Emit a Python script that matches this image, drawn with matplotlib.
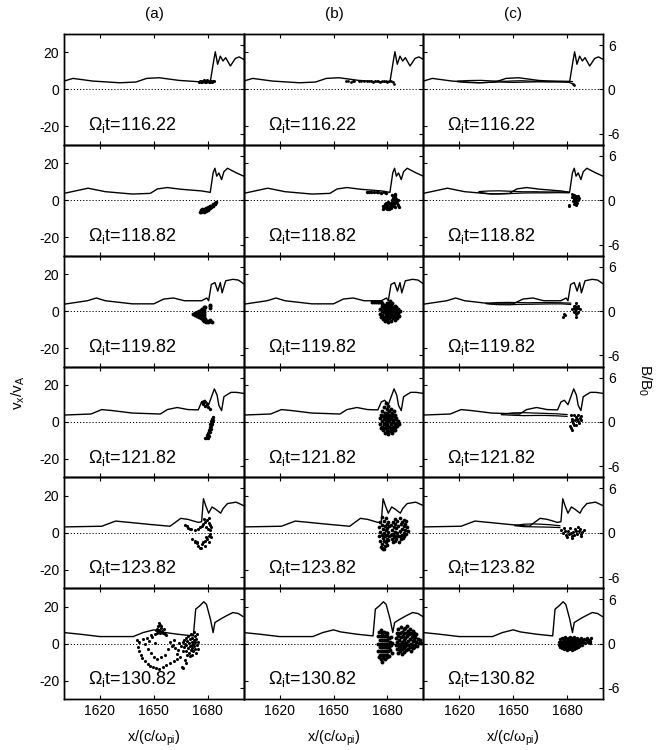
import numpy as np
import matplotlib
matplotlib.use('Agg')
import matplotlib.pyplot as plt

plt.rcParams['font.family'] = ['Liberation Sans', 'DejaVu Sans']
plt.rcParams['mathtext.fontset'] = 'custom'
plt.rcParams['mathtext.rm'] = 'Liberation Sans'
plt.rcParams['mathtext.it'] = 'Liberation Sans:italic'
plt.rcParams['axes.unicode_minus'] = False

times = ['116.22', '118.82', '119.82', '121.82', '123.82', '130.82']
col_titles = ['(a)', '(b)', '(c)']
x_ticks = [1620, 1650, 1680]
v_ticks = [-20, 0, 20]
b_ticks = [-6, 0, 6]

# ---------- B/B0 profiles (same for the three columns of a row) ----------
bx_1 = [1600, 1605, 1616, 1631, 1640, 1646, 1653, 1664, 1675, 1681.4, 1683.3, 1684.2,
        1685.5, 1687, 1688.5, 1690, 1692.6, 1695.4, 1697.5, 1700]
bb_1 = [1.13, 1.49, 1.13, 0.9, 1.0, 1.49, 1.58, 1.22, 1.04, 1.0, 3.85, 5.1,
        3.4, 4.5, 3.85, 4.3, 3.17, 4.2, 4.4, 4.07]
bx_2 = [1600, 1613.4, 1623, 1638, 1648, 1652, 1657.5, 1665, 1676.6, 1681.4, 1683, 1684,
        1685, 1686.2, 1687.7, 1689, 1691, 1694, 1696, 1700]
bb_2 = [0.93, 1.63, 1.16, 0.84, 0.93, 1.53, 1.72, 1.49, 1.26, 1.07, 3.72, 4.33,
        3.26, 3.7, 2.8, 3.86, 4.33, 3.95, 3.7, 3.26]
bx_3 = [1600, 1613, 1618, 1623, 1638, 1650, 1655.5, 1661, 1667, 1676.6, 1679.5, 1680.5,
        1682, 1684, 1685.6, 1687, 1688, 1690, 1694, 1697, 1700]
bb_3 = [0.93, 1.4, 1.77, 1.4, 0.98, 0.98, 1.63, 1.77, 1.4, 1.4, 1.77, 1.4,
        3.6, 3.86, 2.7, 3.86, 2.47, 4.1, 4.3, 4.2, 3.7]
bx_4 = [1600, 1615, 1621, 1627, 1638, 1653.6, 1657.5, 1663, 1669, 1674.7, 1676.6, 1678.5,
        1680.5, 1683.7, 1685.2, 1686.2, 1687.7, 1689, 1691, 1693, 1696, 1700]
bb_4 = [0.93, 1.07, 1.67, 1.53, 1.2, 1.07, 1.67, 1.95, 1.67, 1.63, 2.7, 2.93,
        2.33, 4.47, 3.63, 2.23, 1.53, 3.4, 3.72, 4.0, 4.0, 3.86]
bx_5 = [1600, 1621, 1628.7, 1636.4, 1648, 1659, 1665, 1669, 1674.7, 1676.6, 1677.6, 1679,
        1680.5, 1682.4, 1684.3, 1687.2, 1688.5, 1691, 1695.8, 1700]
bb_5 = [0.79, 0.88, 1.58, 1.4, 1.12, 0.88, 1.95, 1.81, 1.4, 1.49, 4.6, 3.58,
        2.65, 3.49, 3.2, 2.65, 3.26, 3.95, 4.14, 3.67]
bx_6 = [1600, 1608.9, 1620, 1638.5, 1644, 1650, 1654, 1663, 1672, 1673.3, 1675.5, 1677.8,
        1679.3, 1681.5, 1683, 1684, 1687, 1690.4, 1694, 1697, 1699.6]
bb_6 = [1.49, 1.27, 0.95, 0.95, 1.49, 1.86, 1.58, 1.27, 1.04, 4.66, 5.1, 5.66,
        5.3, 3.3, 1.49, 2.85, 3.3, 3.76, 4.2, 4.07, 3.67]

# ---------- particles (x, vx/vA) ----------
pts_a1 = [(1675, 3.8), (1676, 4.6), (1677, 4.0), (1678, 4.9), (1679, 3.9), (1680, 4.5),
          (1681, 4.2), (1682, 4.8), (1683, 4.4), (1675.5, 4.4), (1676.5, 3.9), (1677.5, 4.7),
          (1678.5, 4.1), (1679.5, 4.9), (1680.5, 3.8), (1681.5, 4.6), (1682.5, 4.0), (1683.5, 4.4)]
pts_b1 = [(1657, 4.6), (1658, 4.5), (1660, 4.2), (1661, 4.8), (1661.5, 4.4), (1664, 4.5),
          (1665.5, 4.4), (1667, 4.5), (1668.5, 4.4), (1670, 4.3), (1671, 4.6), (1672, 4.2),
          (1673, 4.5), (1674, 4.3), (1675, 4.6), (1676, 4.2), (1677, 4.5), (1678, 4.3),
          (1679, 4.6), (1680, 4.2), (1681, 4.4), (1682, 4.5), (1683, 4.0), (1683.5, 2.8)]
pts_c1 = [(1683.4, 3.2), (1683.6, 2.6)]

pts_a2 = [(1675.5, -6.2), (1676, -5.5), (1676.5, -6.4), (1677, -4.8), (1677, -5.8), (1678, -4.5),
          (1678, -5.5), (1678, -6.2), (1679, -4), (1679, -5), (1679, -5.9), (1680, -3.5),
          (1680, -4.5), (1680, -5.4), (1681, -3.2), (1681, -4.2), (1682, -3), (1682, -3.8),
          (1683, -2.3), (1683, -3.1), (1684, -1.5), (1684, -2.3), (1684.5, -1.2), (1677.5, -5.2),
          (1680.5, -4)]
pts_b2 = [(1668.6, 4.4), (1669.5, 4.6), (1671, 4.3), (1672.5, 4.5), (1674, 4.2), (1675, 4.6),
          (1676.5, 4.1), (1678, 4.3), (1679, 3.8),
          (1677.5, -3), (1678, -4.2), (1678.5, -2), (1679, -3.5), (1679.5, -4.6), (1680, -2.5),
          (1680.5, -3.8), (1681, -1.5), (1681, -4.5), (1681.5, -3), (1682, -2), (1682, -4),
          (1682.5, -1), (1683, -3), (1683.5, -2), (1684, -1), (1684.5, -3.5), (1677.8, -4.8),
          (1679.2, -1.6), (1680.3, -1.2),
          (1682.5, 0), (1683, 1), (1683.5, 2), (1684, 3), (1684.5, 3.6), (1683.8, 0.5),
          (1684.3, 1.8), (1682.8, 2.6), (1685, 0.8), (1685, -0.6),
          (1685.5, -1.5), (1686, -2.6), (1686.5, -3.5), (1685.8, 0.2)]
pts_c2 = [(1683, 3.5), (1683.5, 2), (1684, 0.5), (1684.5, -1), (1685, -2.5), (1685.5, 1.5),
          (1686, 0), (1684, 3), (1685, 2.5), (1683.5, -0.5), (1684.5, 1), (1685.5, -1.5),
          (1686.5, 1), (1683, 1.5), (1685, 0.2), (1684, -2), (1686, 2.5), (1680.8, -3.2),
          (1681, -2.6)]

pts_a3 = [(1672, -1.7), (1673, -1.2), (1673, -2.3), (1674, -0.6), (1674, -1.6), (1674, -2.8),
          (1675, 0), (1675, -1), (1675, -2), (1675, -3.2), (1676, 0.6), (1676, -0.5),
          (1676, -1.6), (1676, -2.7), (1676, -3.6), (1677, 1.2), (1677, 0), (1677, -1.2),
          (1677, -2.4), (1677, -3.8), (1678, 2), (1678, 0.8), (1678, -0.4), (1678, -1.6),
          (1678, -2.8), (1678, -4), (1678.5, 2.4), (1678.5, -4.1),
          (1677.5, -4.8), (1678.5, -5), (1679.5, -5.2), (1680.5, -5.4), (1681.5, -5.6),
          (1682.3, -5.8), (1679, -5.8), (1680, -6), (1681, -5), (1678, -5.5),
          (1681.3, 3.2), (1681.4, 1.8), (1681, 2.5)]
pts_b3 = [(1676, 1), (1676, -1.5), (1676.5, -3), (1677, 2.5), (1677, 0), (1677, -2), (1677.5, -4.5),
          (1678, 3.5), (1678, 1.5), (1678, -0.5), (1678, -3), (1678.5, -5.5), (1679, 2.5),
          (1679, 0.5), (1679, -1.5), (1679, -4), (1679.5, 4.5), (1680, 3), (1680, 1), (1680, -1),
          (1680, -3), (1680, -5), (1680.5, -6), (1681, 4), (1681, 2), (1681, 0), (1681, -2),
          (1681, -4), (1681.5, 5.2), (1682, 3), (1682, 1), (1682, -1), (1682, -3), (1682, -5.5),
          (1682.5, 4.2), (1683, 2), (1683, 0), (1683, -2), (1683, -4), (1684, 3), (1684, 1),
          (1684, -1), (1684, -3), (1684.5, -5), (1685, 2), (1685, 0), (1685, -2), (1685.5, -3.5),
          (1686, 1), (1686, -1), (1686.5, -2.5), (1686.8, 0.2), (1679.5, -2.5), (1680.5, 0),
          (1681.5, -1), (1682.5, -2), (1683.5, 1), (1683.5, -3), (1678.5, 2), (1677.5, 1),
          (1671.5, 4.9), (1672.5, 5.1), (1673.5, 4.8), (1674.5, 5.0), (1675.5, 4.7), (1676.5, 4.9),
          (1677, 4.6)]
pts_c3 = [(1685, 4.3), (1684, 2.5), (1686, 2.5), (1683, 1), (1687, 1), (1684, -0.5), (1686, -0.5),
          (1685, -3), (1685, 1), (1684.5, 0), (1685.5, 2), (1685, -1.5), (1684, 1.5), (1686, 1.5),
          (1685.5, -0.8), (1684.5, 3), (1678.5, -1.5), (1678, -3), (1679, -2.2)]

pts_a4 = [(1682.8, 2.4), (1682.5, 1.5), (1682, 0.5), (1682.3, -0.3), (1681.5, -1), (1681.8, -2),
          (1681, -2.8), (1681.3, -3.5), (1680.5, -4.2), (1680.8, -5), (1680, -5.8), (1680.3, -6.5),
          (1679.5, -7.2), (1679.8, -8), (1679, -8.6), (1678.6, -8.9), (1683, 1), (1682.6, -1.2),
          (1681.9, -3.8), (1681.2, -5.6), (1680.6, -7.4), (1680.2, -8.5),
          (1681.4, 7), (1676.7, 10.6), (1677.5, 9.5), (1678.5, 8.5), (1679.5, 9.8), (1678, 11),
          (1680, 8)]
pts_b4 = [(1676, 2), (1676, -1), (1676.5, 4), (1677, 0.5), (1677, -2.5), (1677, 6), (1677.5, 3),
          (1677.5, -4.5), (1678, 8), (1678, 1.5), (1678, -1), (1678, -3.5), (1678.5, 5),
          (1678.5, -6), (1679, 10), (1679, 3), (1679, 0), (1679, -2.5), (1679.5, 7), (1679.5, -5),
          (1680, 5), (1680, 1.5), (1680, -1.5), (1680, -4), (1680.5, 8.5), (1680.5, 3),
          (1680.5, -6.5), (1681, 6), (1681, 0.5), (1681, -2.5), (1681.5, 4), (1681.5, -5),
          (1682, 7), (1682, 2), (1682, -1), (1682, -3.5), (1682.5, 5), (1682.5, -6), (1683, 3),
          (1683, 0), (1683, -2.5), (1683.5, 6), (1683.5, -4.5), (1684, 1.5), (1684, -1.5),
          (1684.5, 4), (1684.5, -3), (1685, 2), (1685, -0.5), (1685.5, -2), (1686, 0.5),
          (1686.5, -1), (1676.5, -3.5), (1679.5, -0.8), (1681.3, 1.8), (1683.2, 1.2),
          (1678.8, 4.2), (1680.2, -2.8), (1682.2, -4.6), (1684.2, -4.2)]
pts_c4 = [(1682, 3.5), (1683, 1.5), (1684, 3.8), (1685, 2.5), (1686, 0.5), (1687, 2), (1688, 1),
          (1683.5, -0.5), (1685, -1.5), (1686.5, -0.8), (1684.5, 0.8), (1687.5, 3), (1682.5, 0.5),
          (1685.5, 1.5), (1684, -1.8), (1681.5, -2), (1682, -3.5), (1683, -4.2), (1686, 3.5)]

pts_a5 = [(1667.4, 4.1), (1669, 2.8), (1670.9, 1.9), (1672.8, 1.7), (1674.7, 2.2), (1676.6, 3.5),
          (1677.6, 5.0), (1678.5, 6.0), (1679.5, 6.9), (1680.5, 5.4), (1678.9, 3.2), (1681.4, 4.1),
          (1680.1, 2.2), (1668.2, 3.5), (1669.9, 2.2), (1675.7, 3.2), (1678.2, 7.3), (1680.5, 7.8),
          (1682, 3.2),
          (1671.3, -3.4), (1672.8, -4.3), (1673.8, -5.2), (1674.7, -7.1), (1675.7, -8),
          (1676.6, -6.1), (1677.6, -5.2), (1678.5, -4.3), (1679.5, -3.4), (1680.5, -1.5),
          (1681.4, -0.6), (1682, -2.4), (1680.8, -5.2), (1678.5, -7.1), (1676.2, -8.4),
          (1672.8, -5.2), (1674.3, -5.8), (1678.9, -2.4), (1681.4, 1.3)]
pts_b5 = [(1675.5, 3), (1675.5, -2), (1676, 6), (1676, 0.5), (1676, -4.5), (1676.5, -7.5),
          (1677, 8.5), (1677, 4), (1677, -1), (1677, -6), (1677.5, 2), (1677.5, -3),
          (1677.5, -8.8), (1678, 6.5), (1678, 0), (1678, -4.5), (1678.5, 3.5), (1678.5, -2),
          (1678.5, -7), (1679, 7.8), (1679, 1.5), (1679, -5), (1679.5, 5), (1679.5, -1),
          (1679.5, -3.5), (1680, 2.5), (1680, -6.5), (1680.5, 0.5), (1680.5, -4), (1681, 3.5),
          (1681, -2), (1676.8, -8.5), (1678.2, -9), (1680.2, 6),
          (1682, 4), (1682, -1), (1682.5, 1.5), (1682.5, -3.5), (1683, 6), (1683, -0.5),
          (1683, -5), (1683.5, 3), (1683.5, -2.5), (1684, 7.5), (1684, 0.5), (1684, -4.5),
          (1684.5, 5), (1684.5, -1.5), (1685, 2.5), (1685, -3.5), (1685.5, 6.5), (1685.5, 0),
          (1686, -2), (1686, 3.5), (1686.5, -5), (1687, 7.8), (1687, 1), (1687, -1.5),
          (1687.5, 4.5), (1687.5, -3.5), (1688, 6), (1688, 2), (1688, -1), (1688.5, -3),
          (1689, 7), (1689, 3.5), (1689, 0), (1689.5, -2), (1690, 5), (1690, 1.5),
          (1690.5, -0.5), (1690.5, 6.5), (1691, 3), (1691.5, 1)]
pts_c5 = [(1676.5, 1.5), (1677.5, 0), (1678.5, 2.5), (1679.5, -1), (1680.5, 1), (1681.5, 2.8),
          (1682.5, -1.8), (1683.5, 0.5), (1684.5, 2), (1685.5, -0.5), (1686.5, 1.2),
          (1687.5, -1.5), (1688.5, 0.3), (1689.3, 1.5), (1680, -2.5), (1683, -2.8), (1686, 3),
          (1682, 0), (1684, -1), (1685, 1), (1687, 2), (1679, 0.8), (1681, -0.5), (1688, -0.5)]

pts_a6 = [(1652.5, 9.5), (1653, 11), (1653.5, 10), (1654, 8.5), (1652, 8), (1653, 7.5),
          (1654.5, 7), (1655, 6), (1652.5, 6.5), (1651.5, 6), (1653.5, 5.5), (1655.5, 8),
          (1656, 5), (1651, 7.2), (1654, 9.5), (1650.5, 5), (1656.5, 4.5),
          (1640.5, 2), (1642, 1), (1644, 2.5), (1646, 3), (1647.5, 1.5), (1649, 3.5),
          (1650.5, 0.5), (1645, 0), (1648.5, 4.5),
          (1641, -2), (1642, -4), (1643, -6), (1643.5, -7.8), (1645, -9.5), (1646.5, -11),
          (1648, -12), (1649.5, -12.5), (1651, -13), (1653, -13.5), (1655, -12.5),
          (1657, -11.5), (1659, -10.5), (1661, -9.5), (1663, -8.2), (1664.5, -7),
          (1647, -3), (1648.5, -5), (1650, -7), (1652, -8.5), (1654, -7.5), (1656, -6),
          (1658, -3), (1660, -1.5),
          (1665.5, -12.5), (1666.5, -13), (1668, -10.5), (1667.5, -9),
          (1659, 1), (1660.5, -0.5), (1662, -2.5), (1663.5, -3.5), (1664, 0.5), (1665, -1.5),
          (1666, -4), (1663, -5.5), (1661.5, 1.8), (1666.5, 1),
          (1667, 2), (1667, -2), (1667.5, 0), (1668, 3), (1668, -1), (1668, -4), (1668.5, 1.5),
          (1669, -2.5), (1669, 4), (1669.5, 0.5), (1669.5, -5), (1670, 2.5), (1670, -1.5),
          (1670.5, -3.5), (1670.5, 5), (1671, 1), (1671, -0.5), (1671.5, 3), (1671.5, -2.5),
          (1671.5, -6), (1672, 0), (1672, -4), (1672.5, 2), (1672.5, 6.5), (1672.5, -1.5),
          (1673, 4), (1673, -3), (1673, 0.8), (1673.5, -5), (1673.5, 2.5), (1674, -1),
          (1674, 5), (1674.5, 1), (1674.5, -3), (1670, -6.5), (1668.5, -6)]
pts_b6 = [(1675, 4), (1675, 0), (1675, -4), (1675.5, -7), (1675.5, 6.5), (1676, 2), (1676, -2),
          (1676, -6), (1676.5, 7.5), (1676.5, 4), (1676.5, 0), (1676.5, -4), (1676.5, -8.5),
          (1677, -9.8), (1677, 6), (1677, 2), (1677, -2), (1677, -6), (1677.5, 4), (1677.5, 0),
          (1677.5, -4), (1677.5, -8), (1678, 6.5), (1678, 2), (1678, -2), (1678, -6),
          (1678.5, 4), (1678.5, 0), (1678.5, -4), (1678.5, -8.5), (1679, 6), (1679, 2),
          (1679, -2), (1679, -6), (1679.5, 4), (1679.5, 0), (1679.5, -4), (1679.5, -7.5),
          (1680, 2), (1680, -2), (1680, -6), (1680, 5.5), (1680.5, 0), (1680.5, -4), (1681, 3),
          (1681, -2), (1681, -6.5), (1681.5, 1), (1681.5, -3.5), (1682, -1), (1682, 3.5),
          (1682.5, -5), (1682.8, 0.5),
          (1685, 3), (1685, -1), (1685.5, 6), (1685.5, 1), (1685.5, -3), (1686, 8), (1686, 4),
          (1686, -1), (1686, -5), (1686.5, 2), (1686.5, -2.5), (1687, 6), (1687, 0), (1687, -4),
          (1687.5, 9), (1687.5, 3.5), (1687.5, -1.5), (1688, 6.5), (1688, 1), (1688, -3),
          (1688, -5.5), (1688.5, 4), (1688.5, -1), (1689, 8), (1689, 2), (1689, -2.5),
          (1689.5, 5.5), (1689.5, 0), (1689.5, -4.5), (1690, 8.5), (1690, 3), (1690, -1.5),
          (1690.5, 6), (1690.5, 0.5), (1690.5, -3.5), (1691, 9.5), (1691, 4), (1691, -1),
          (1691.5, 7), (1691.5, 1.5), (1691.5, -3), (1692, 5), (1692, -0.5), (1692.5, 8),
          (1692.5, 2.5), (1692.5, -2), (1693, 6), (1693, 0), (1693, -4), (1693.5, 3.5),
          (1693.5, -1.5), (1694, 7), (1694, 1.5), (1694, -2.5), (1694.5, 4.5), (1694.5, -0.5),
          (1695, 6), (1695, 2), (1695, -2), (1695.5, 3.5), (1695.5, -0.5), (1696, 1), (1696, 5),
          (1696.5, -1.5), (1697, 2.5), (1697.5, 0.5), (1698, 1.8), (1698.5, 0.2)]
pts_c6 = [(1675.5, 1), (1675.5, -1), (1676, 2.5), (1676, 0), (1676, -2), (1676.5, 1), (1676.5, -1),
          (1677, 3), (1677, 0), (1677, -2.5), (1677.5, 1.5), (1677.5, -1), (1678, 3), (1678, 0.5),
          (1678, -2), (1678.5, 2), (1678.5, -0.5), (1678.5, -3), (1679, 3.5), (1679, 1),
          (1679, -1.5), (1679.5, 2.5), (1679.5, 0), (1679.5, -2.5), (1680, 1.5), (1680, -1),
          (1680, -3.5), (1680.5, 3), (1680.5, 0.5), (1680.5, -2), (1681, 2), (1681, -0.5),
          (1681, -3), (1681.5, 3.5), (1681.5, 1), (1681.5, -1.5), (1682, 2.5), (1682, 0),
          (1682, -2.5), (1682.5, 1.5), (1682.5, -1), (1682.5, -3.3), (1683, 3), (1683, 0.5),
          (1683, -2), (1683.5, 2), (1683.5, -0.5), (1684, 3.5), (1684, 1), (1684, -1.5),
          (1684, -3), (1684.5, 2.5), (1684.5, 0), (1685, 1.5), (1685, -1), (1685, -2.5),
          (1685.5, 3), (1685.5, 0.5), (1686, 2), (1686, -0.5), (1686, -2), (1686.5, 1),
          (1686.5, -1.5), (1687, 2.5), (1687, 0), (1687.5, 1.5), (1687.5, -1), (1688, 3),
          (1688, 0.5), (1688.5, 2), (1688.5, -0.5), (1689, 1), (1689.5, 2.5), (1690, 0.5),
          (1690.5, 1.8), (1691, 3), (1691.5, 1), (1692, 2.2), (1692.5, 0.5), (1693, 1.5),
          (1693.5, 3)]

# column (c): thin ribbon of upstream particles (upper / lower edge)
band_x_1 = [1619, 1625, 1632, 1638, 1642, 1646, 1650, 1655, 1659, 1664, 1670, 1676, 1681, 1683]
band_hi_1 = [4.5, 4.8, 4.9, 4.6, 4.5, 4.4, 4.6, 4.7, 4.5, 4.4, 4.5, 4.5, 4.4, 4.2]
band_lo_1 = [4.2, 3.7, 3.6, 3.9, 4.0, 3.9, 3.8, 3.9, 4.0, 4.1, 4.0, 4.1, 3.9, 3.0]
band_x_2 = [1631, 1636, 1642, 1648, 1655, 1662, 1669, 1675, 1681]
band_hi_2 = [4.7, 5.0, 5.1, 4.9, 4.6, 4.6, 4.5, 4.5, 4.4]
band_lo_2 = [4.3, 3.6, 3.4, 3.6, 3.9, 4.0, 4.0, 4.1, 4.0]
band_x_3 = [1635, 1641, 1647, 1653, 1659, 1665, 1671, 1677, 1682]
band_hi_3 = [4.3, 4.6, 4.7, 4.6, 4.5, 4.6, 4.6, 4.5, 4.3]
band_lo_3 = [4.0, 3.5, 3.4, 3.6, 3.7, 3.8, 3.9, 3.9, 3.6]
band_x_4 = [1643.5, 1650, 1656, 1662, 1668, 1674, 1680]
band_hi_4 = [4.2, 4.9, 5.0, 4.8, 4.6, 4.4, 4.0]
band_lo_4 = [3.9, 3.6, 3.4, 3.5, 3.5, 3.3, 3.0]
band_x_5 = [1651, 1656, 1661, 1666, 1671, 1676]
band_hi_5 = [4.0, 4.6, 4.8, 4.6, 4.3, 3.8]
band_lo_5 = [3.8, 3.3, 3.2, 3.1, 3.0, 2.8]

b_rows = [(bx_1, bb_1), (bx_2, bb_2), (bx_3, bb_3), (bx_4, bb_4), (bx_5, bb_5), (bx_6, bb_6)]
particles = [[pts_a1, pts_b1, pts_c1], [pts_a2, pts_b2, pts_c2], [pts_a3, pts_b3, pts_c3],
             [pts_a4, pts_b4, pts_c4], [pts_a5, pts_b5, pts_c5], [pts_a6, pts_b6, pts_c6]]
bands = [(band_x_1, band_hi_1, band_lo_1), (band_x_2, band_hi_2, band_lo_2),
         (band_x_3, band_hi_3, band_lo_3), (band_x_4, band_hi_4, band_lo_4),
         (band_x_5, band_hi_5, band_lo_5), None]
dot_size = [[5, 4, 4], [7, 6, 5], [8, 8, 5], [6, 8, 5], [5, 7, 5], [5, 8, 6]]

W, H = 657, 750
fig, axes = plt.subplots(6, 3, figsize=(W / 100, H / 100), dpi=100, sharex=True, sharey=True)
fig.subplots_adjust(left=64 / W, right=603 / W, top=1 - 34 / H, bottom=1 - 699 / H,
                    hspace=0, wspace=0)

for r in range(6):
    for c in range(3):
        ax = axes[r, c]
        tw = ax.twinx()
        bx, bb = b_rows[r]
        tw.plot(bx, bb, color='k', lw=1.0)
        tw.set_ylim(-7.5, 7.5)
        tw.set_yticks(b_ticks)
        tw.tick_params(direction='in', length=3, width=0.8, labelsize=10,
                       labelright=(c == 2))

        ax.set_zorder(tw.get_zorder() + 1)
        ax.patch.set_visible(False)
        ax.axhline(0, color='k', ls=(0, (1.2, 2)), lw=0.7)

        if c == 2 and bands[r] is not None:
            xs, hi, lo = bands[r]
            ax.plot(xs, hi, color='k', lw=0.9)
            ax.plot(xs, lo, color='k', lw=0.9)

        p = np.array(particles[r][c])
        ax.scatter(p[:, 0], p[:, 1], s=dot_size[r][c], c='k', linewidths=0, zorder=3)

        ax.text(1613.3, -22, 'Ω$_{\\rm i}$t=' + times[r], fontsize=13, va='baseline')

        ax.set_xlim(1600, 1700)
        ax.set_ylim(-30, 30)
        ax.set_xticks(x_ticks)
        ax.set_yticks(v_ticks)
        ax.tick_params(direction='in', length=3, width=0.8, labelsize=10, top=True)
        for sp in ax.spines.values():
            sp.set_linewidth(1.0)
        for sp in tw.spines.values():
            sp.set_linewidth(1.0)

col_centers = [154, 334, 513]
for c in range(3):
    fig.text(col_centers[c] / W, 1 - 14 / H, col_titles[c], ha='center', va='center', fontsize=11)
    fig.text(col_centers[c] / W, 1 - 738 / H, 'x/(c/ω$_{\\rm pi}$)', ha='center', va='center',
             fontsize=10.5)

fig.text(18 / W, 1 - 393 / H, 'v$_{\\rm x}$/v$_{\\rm A}$', rotation=90, ha='center', va='center',
         fontsize=11)
fig.text(645 / W, 1 - 380 / H, 'B/B$_0$', rotation=-90, ha='center', va='center', fontsize=11)

fig.savefig('out.png', dpi=100, facecolor='white')
